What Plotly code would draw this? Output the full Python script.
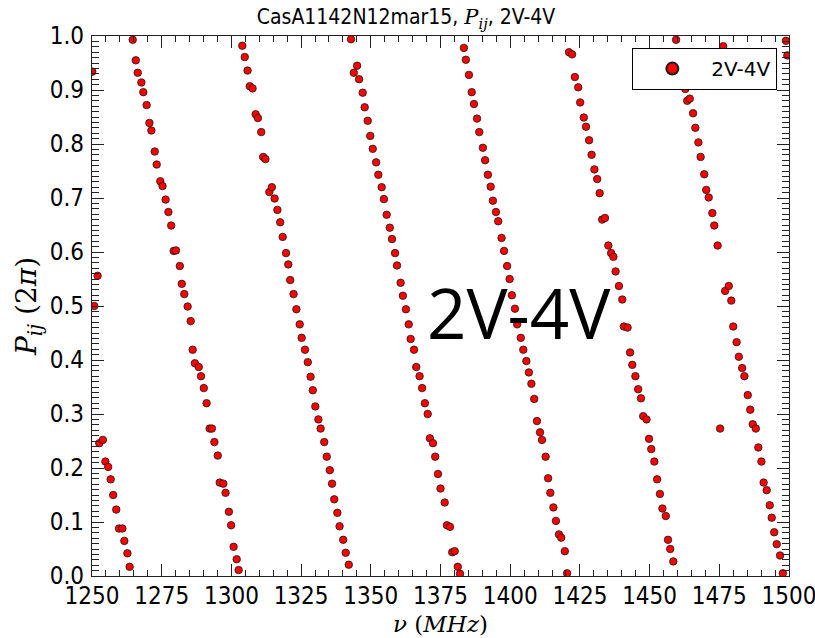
import plotly.graph_objects as go

freq_mhz = [
    1250.1, 1250.8, 1252.0,
    1252.6, 1253.9, 1254.8, 1255.8, 1256.7, 1257.6, 1258.7, 1259.7, 1260.9, 1261.6, 1262.7, 1263.5,
    1264.6, 1265.7, 1266.4, 1267.7, 1268.4, 1269.6, 1270.6, 1271.3, 1272.5, 1273.2, 1274.5, 1275.3,
    1276.4, 1277.4, 1278.4, 1279.3, 1280.1, 1281.5, 1282.2, 1283.1, 1284.3, 1285.4, 1286.1, 1286.9,
    1288.3, 1289.1, 1290.1, 1291.1, 1292.2, 1293.0, 1293.9, 1295.1, 1295.8, 1297.1, 1297.9, 1299.1,
    1299.9, 1300.8, 1301.9, 1302.6,
    1303.9, 1304.8, 1305.8, 1306.6, 1307.6, 1308.7, 1309.5, 1310.7, 1311.4, 1312.2, 1313.6, 1314.5,
    1315.5, 1316.5, 1317.5, 1318.4, 1319.6, 1320.4, 1321.1, 1322.3, 1323.3, 1324.5, 1325.2, 1326.4,
    1327.4, 1328.4, 1329.2, 1330.1, 1331.2, 1332.0, 1333.3, 1334.2, 1335.3, 1336.1, 1336.9, 1338.0,
    1338.8, 1340.1, 1341.0, 1342.1,
    1342.9, 1343.9, 1345.1, 1345.8, 1347.1, 1347.8, 1348.9, 1349.8, 1350.7, 1351.9, 1352.7, 1353.9,
    1354.7, 1355.7, 1356.8, 1357.6, 1358.7, 1359.4, 1360.7, 1361.5, 1362.6, 1363.6, 1364.3, 1365.5,
    1366.3, 1367.5, 1368.4, 1369.4, 1370.4, 1371.2, 1372.3, 1373.1, 1374.1, 1375.0, 1376.5, 1377.3,
    1378.4, 1379.2, 1380.1, 1381.2, 1382.0,
    1383.4, 1384.1, 1385.2, 1386.2, 1387.0, 1388.1, 1388.9, 1390.2, 1391.0, 1392.0, 1393.0, 1393.8,
    1394.9, 1395.7, 1396.9, 1397.8, 1398.9, 1399.8, 1400.6, 1401.7, 1402.5, 1403.8, 1404.7, 1405.8,
    1406.7, 1407.6, 1408.6, 1409.6, 1410.7, 1411.4, 1412.7, 1413.6, 1414.4, 1415.5, 1416.4, 1417.5,
    1418.3, 1419.6, 1420.4,
    1421.1, 1422.2, 1423.2, 1424.4, 1425.1, 1426.4, 1427.2, 1428.3, 1429.2, 1430.2, 1431.2, 1432.1,
    1433.0, 1434.0, 1435.2, 1436.2, 1437.0, 1437.8, 1439.0, 1440.2, 1440.8, 1442.1, 1443.0, 1443.8,
    1444.9, 1445.9, 1446.9, 1447.7, 1448.9, 1449.8, 1450.6, 1451.7, 1452.7, 1453.7, 1454.6, 1455.8,
    1456.6, 1457.4, 1458.5,
    1459.5, 1462.8, 1463.5, 1464.4, 1465.6, 1466.4, 1467.5, 1468.3, 1469.6, 1470.3, 1471.2, 1472.5,
    1473.2, 1474.4, 1475.3, 1476.4, 1477.1, 1478.4, 1479.3, 1480.0, 1481.2, 1482.0, 1483.2, 1484.0,
    1485.2, 1486.1, 1487.0, 1488.1, 1489.0, 1490.1, 1490.9, 1492.0, 1493.1, 1493.8, 1494.7, 1495.6,
    1496.8, 1497.8, 1498.9, 1499.4,
]

phase_2pi = [
    0.934, 0.500, 0.556,
    0.246, 0.252, 0.212, 0.202, 0.179, 0.150, 0.123, 0.088, 0.088, 0.065, 0.042, 0.017,
    0.993, 0.955, 0.932, 0.914, 0.896, 0.872, 0.839, 0.825, 0.786, 0.762, 0.731, 0.722,
    0.697, 0.674, 0.649, 0.602, 0.603, 0.574, 0.541, 0.522, 0.499, 0.472, 0.419, 0.394,
    0.387, 0.370, 0.348, 0.320, 0.273, 0.273, 0.248, 0.223, 0.173, 0.171, 0.154, 0.119,
    0.094, 0.054, 0.031, 0.011,
    0.982, 0.961, 0.936, 0.907, 0.903, 0.855, 0.848, 0.822, 0.776, 0.772, 0.711, 0.720,
    0.699, 0.678, 0.655, 0.628, 0.598, 0.577, 0.548, 0.522, 0.494, 0.466, 0.441, 0.419,
    0.396, 0.369, 0.344, 0.314, 0.290, 0.273, 0.248, 0.221, 0.196, 0.171, 0.142, 0.117,
    0.092, 0.067, 0.043, 0.021,
    0.994, 0.932, 0.945, 0.920, 0.895, 0.868, 0.843, 0.815, 0.791, 0.766, 0.743, 0.720,
    0.698, 0.669, 0.645, 0.624, 0.598, 0.575, 0.543, 0.519, 0.494, 0.466, 0.439, 0.419,
    0.387, 0.370, 0.348, 0.320, 0.300, 0.255, 0.246, 0.221, 0.189, 0.162, 0.136, 0.094,
    0.091, 0.044, 0.046, 0.017, 0.004,
    0.978, 0.956, 0.928, 0.896, 0.874, 0.847, 0.822, 0.793, 0.770, 0.743, 0.721, 0.695,
    0.674, 0.657, 0.626, 0.602, 0.574, 0.550, 0.520, 0.495, 0.466, 0.441, 0.419, 0.398,
    0.377, 0.356, 0.328, 0.287, 0.266, 0.252, 0.221, 0.181, 0.154, 0.127, 0.102, 0.077,
    0.071, 0.046, 0.005,
    0.970, 0.966, 0.924, 0.905, 0.877, 0.849, 0.832, 0.807, 0.780, 0.753, 0.735, 0.709,
    0.660, 0.663, 0.612, 0.598, 0.591, 0.564, 0.537, 0.512, 0.462, 0.460, 0.414, 0.391,
    0.370, 0.346, 0.329, 0.296, 0.290, 0.254, 0.235, 0.212, 0.179, 0.152, 0.125, 0.111,
    0.067, 0.050, 0.027,
    0.993, 0.902, 0.880, 0.884, 0.857, 0.830, 0.803, 0.776, 0.744, 0.715, 0.701, 0.672,
    0.649, 0.612, 0.273, 0.981, 0.528, 0.537, 0.510, 0.462, 0.433, 0.406, 0.385, 0.370,
    0.335, 0.308, 0.281, 0.273, 0.238, 0.212, 0.173, 0.159, 0.131, 0.108, 0.081, 0.059,
    0.038, 0.005, 0.991, 0.964,
]

x_ticks = [1250, 1275, 1300, 1325, 1350, 1375, 1400, 1425, 1450, 1475, 1500]
y_ticks = [0.0, 0.1, 0.2, 0.3, 0.4, 0.5, 0.6, 0.7, 0.8, 0.9, 1.0]

series_name = "2V-4V"
title_text = ("CasA1142N12mar15, <span style='font-family:DejaVu Serif'><i>P</i>"
              "<sub><i>ij</i></sub></span>, 2V-4V")

TICK_FONT = "Liberation Sans Narrow, DejaVu Sans Condensed, DejaVu Sans"
SERIF = "DejaVu Serif, Liberation Serif, serif"

fig = go.Figure()
fig.add_trace(go.Scatter(
    x=freq_mhz, y=phase_2pi, mode="markers", name=series_name,
    marker=dict(color="#ff0000", size=7.5, line=dict(color="#1a1a1a", width=0.8)),
    showlegend=True, cliponaxis=True,
))

axis_common = dict(
    showgrid=False, zeroline=False, showline=True, linecolor="#222", linewidth=1.3,
    mirror="allticks", ticks="inside", ticklen=12, tickwidth=1, tickcolor="#222",
    tickfont=dict(family=TICK_FONT, size=24, color="black"),
    ticklabeloverflow="allow", automargin=False,
)

fig.update_xaxes(
    range=[1250, 1500], tickvals=x_ticks, ticktext=[str(v) for v in x_ticks],
    minor=dict(dtick=5, ticks="inside", ticklen=6, tickcolor="#222", showgrid=False),
    title=dict(text="<i>ν</i> (<i>MHz</i>)", font=dict(family=SERIF, size=23, color="black"),
               standoff=6),
    ticklabelstandoff=-2,
    **axis_common,
)
fig.update_yaxes(
    range=[0, 1], tickvals=y_ticks, ticktext=[f"{v:.1f}" for v in y_ticks],
    minor=dict(dtick=0.01, ticks="inside", ticklen=7, tickcolor="#222", showgrid=False),
    title=dict(text="<i>P</i><sub><i>ij</i></sub> (2<i>π</i>)",
               font=dict(family=SERIF, size=28, color="black"), standoff=4),
    ticklabelstandoff=2,
    **axis_common,
)

fig.add_annotation(
    x=1403, y=0.489, xref="x", yref="y", text="2V-4V", showarrow=False,
    font=dict(family="Open Sans, Lato, sans-serif", size=69, color="black"),
    xanchor="center", yanchor="middle",
)

fig.update_layout(
    width=815, height=638,
    margin=dict(l=92, r=26, t=36, b=62, autoexpand=False),
    paper_bgcolor="white", plot_bgcolor="white",
    title=dict(text=title_text, x=406 / 815, xref="container", y=1 - 17 / 638, yref="container",
               xanchor="center", yanchor="middle",
               font=dict(family=TICK_FONT, size=21, color="black")),
    legend=dict(x=0.983, y=0.978, xanchor="right", yanchor="top",
                bgcolor="white", bordercolor="black", borderwidth=1.2,
                font=dict(family="DejaVu Sans, sans-serif", size=20, color="black"),
                itemwidth=68, itemsizing="constant"),
    showlegend=True,
)

fig.write_html("out.html")
